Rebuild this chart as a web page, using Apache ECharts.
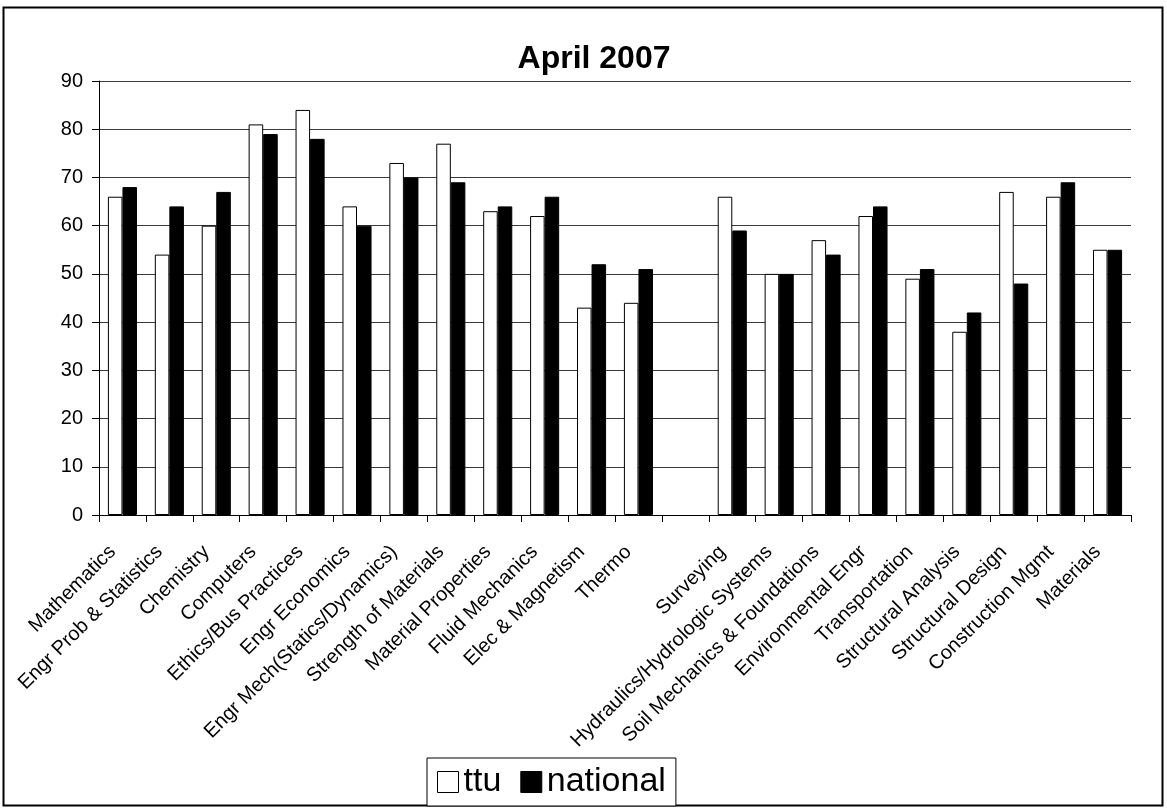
<!DOCTYPE html>
<html>
<head>
<meta charset="utf-8">
<script src="https://cdn.jsdelivr.net/npm/echarts@6/dist/echarts.min.js"></script>
<style>
html,body{margin:0;padding:0;background:#fff;}
#chart{width:1167px;height:810px;}
</style>
</head>
<body>
<div id="chart"></div>
<script>
const categories = ["Mathematics","Engr Prob & Statistics","Chemistry","Computers","Ethics/Bus Practices","Engr Economics","Engr Mech(Statics/Dynamics)","Strength of Materials","Material Properties","Fluid Mechanics","Elec & Magnetism","Thermo","","Surveying","Hydraulics/Hydrologic Systems","Soil Mechanics & Foundations","Environmental Engr","Transportation","Structural Analysis","Structural Design","Construction Mgmt","Materials"];
const ttu =      [66,54,60,81,84,64,73,77,63,62,43,44,null,66,50,57,62,49,38,67,66,55];
const national = [68,64,67,79,78,60,70,69,64,66,52,51,null,59,50,54,64,51,42,48,69,55];
const yTicks = [0,10,20,30,40,50,60,70,80,90];

const FONT = "'Liberation Sans', Arial, sans-serif";
const chart = echarts.init(document.getElementById('chart'), null, {renderer:'canvas'});
chart.setOption({
  backgroundColor:'#fff',
  animation:false,
  textStyle:{fontFamily:FONT,color:'#000'},
  title:{
    text:'April 2007',
    left:589, top:38, textAlign:'center',
    textStyle:{fontFamily:FONT,fontSize:32,fontWeight:'bold',color:'#000'}
  },
  graphic:[{
    type:'rect', z:-1, silent:true,
    shape:{x:3.5,y:7.5,width:1159,height:798},
    style:{fill:'none',stroke:'#000',lineWidth:2}
  }],
  legend:{
    left:427, top:758,
    padding:[7,10,7,10],
    itemGap:19, itemWidth:21, itemHeight:21,
    borderColor:'#000', borderWidth:1, backgroundColor:'#fff',
    icon:'rect',
    textStyle:{fontFamily:FONT,fontSize:34,color:'#000'},
    data:[
      {name:'ttu', itemStyle:{color:'#fff',borderColor:'#000',borderWidth:1}},
      {name:'national', itemStyle:{color:'#000',borderColor:'#000',borderWidth:1}}
    ]
  },
  grid:{left:99, right:36, top:81, bottom:295, containLabel:false},
  xAxis:{
    type:'category',
    data:categories,
    boundaryGap:true,
    axisLine:{show:true,lineStyle:{color:'#000',width:1}},
    axisTick:{show:true,alignWithLabel:false,interval:0,length:7,lineStyle:{color:'#000'}},
    axisLabel:{interval:0,rotate:45,fontFamily:FONT,fontSize:20,color:'#000',margin:24,padding:[0,14,0,0]},
    splitLine:{show:false}
  },
  yAxis:{
    type:'value',
    min:yTicks[0], max:yTicks[yTicks.length-1], interval:10,
    axisLine:{show:true,lineStyle:{color:'#000',width:1}},
    axisTick:{show:true,length:7,lineStyle:{color:'#000'}},
    axisLabel:{fontFamily:FONT,fontSize:20,color:'#000',margin:16},
    splitLine:{show:true,lineStyle:{color:'#3a3a3a',width:1}}
  },
  series:[
    {name:'ttu', type:'bar', data:ttu, barGap:'0%', barCategoryGap:'38%',
     itemStyle:{color:'#fff',borderColor:'#000',borderWidth:1}},
    {name:'national', type:'bar', data:national, barGap:'0%', barCategoryGap:'38%',
     itemStyle:{color:'#000',borderColor:'#000',borderWidth:1}}
  ]
});
</script>
</body>
</html>
